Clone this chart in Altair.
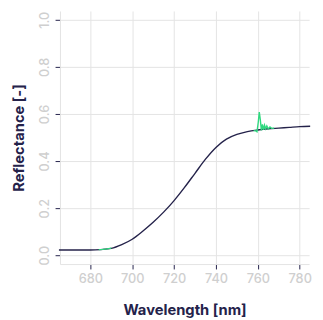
import altair as alt
import pandas as pd

# Smoothed reflectance spectrum (navy)
wl = [665, 670, 675, 680, 685, 690, 695, 700, 705, 710, 715, 720, 725, 730, 735,
      740, 745, 750, 755, 760, 765, 770, 775, 780, 785]
refl = [0.022, 0.022, 0.022, 0.022, 0.024, 0.029, 0.045, 0.068, 0.102, 0.140, 0.183,
        0.232, 0.288, 0.348, 0.408, 0.458, 0.493, 0.513, 0.525, 0.532, 0.537, 0.540,
        0.543, 0.546, 0.548]

# Raw measurement segments (green), visible where it departs from the smooth curve
g1_wl = [684, 686, 688, 690]
g1_refl = [0.024, 0.025, 0.027, 0.030]
g2_wl = [758, 759, 759.6, 760.2, 760.7, 761.2, 761.7, 762.2, 762.7, 763.2, 763.7,
         764.3, 765.0, 765.8, 766.6, 767.8]
g2_refl = [0.529, 0.528, 0.524, 0.565, 0.608, 0.575, 0.530, 0.556, 0.533, 0.552, 0.537,
           0.549, 0.536, 0.545, 0.539, 0.540]

navy = "#24224a"
green = "#2fd97f"
grid = "#e3e3e3"
label_gray = "#cfcfcf"
FONT = "Inter"

main = pd.DataFrame({"wl": wl, "r": refl})
raw = pd.DataFrame({
    "wl": g1_wl + g2_wl,
    "r": g1_refl + g2_refl,
    "seg": ["a"] * len(g1_wl) + ["b"] * len(g2_wl),
})

xscale = alt.Scale(domain=[665.5, 784.5], nice=False, zero=False)
yscale = alt.Scale(domain=[-0.0375, 1.0375], nice=False, zero=False)

xaxis = alt.Axis(title="Wavelength [nm]", values=[680, 700, 720, 740, 760, 780],
                 format="d", tickSize=5, labelPadding=4, titlePadding=17)
yaxis = alt.Axis(title="Reflectance [-]", values=[0, 0.2, 0.4, 0.6, 0.8, 1.0],
                 format=".1f", tickSize=5, labelAngle=270, labelPadding=4,
                 titlePadding=12)

base_line = alt.Chart(main).mark_line(color=navy, strokeWidth=1.4, interpolate="monotone").encode(
    x=alt.X("wl:Q", scale=xscale, axis=xaxis),
    y=alt.Y("r:Q", scale=yscale, axis=yaxis),
)

raw_line = alt.Chart(raw).mark_line(color=green, strokeWidth=1.4).encode(
    x="wl:Q",
    y="r:Q",
    detail="seg:N",
)

chart = alt.layer(base_line, raw_line).properties(
    width=254, height=258,
    padding={"top": 0, "left": 4, "right": 2, "bottom": 0},
).configure_view(stroke=None).configure_axis(
    gridColor=grid,
    domainColor=grid,
    tickColor=navy,
    labelColor=label_gray,
    labelFont=FONT,
    labelFontSize=13,
    labelFontWeight=500,
    titleFont=FONT,
    titleFontSize=15,
    titleFontWeight="bold",
    titleColor=navy,
)

chart.save("out.html", embed_options={"renderer": "svg", "actions": False})
